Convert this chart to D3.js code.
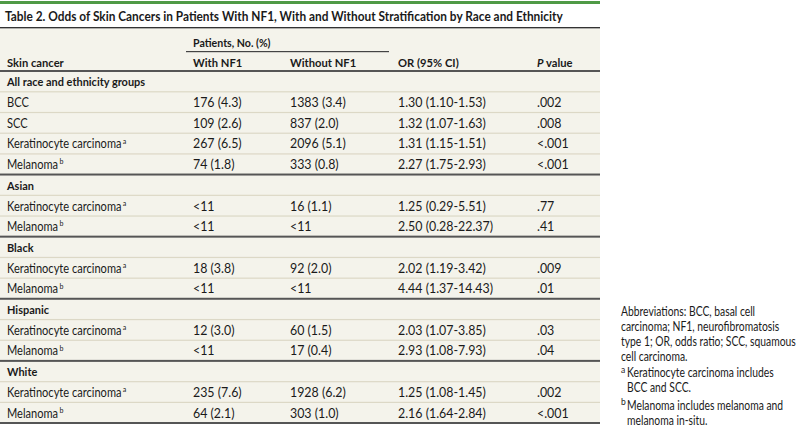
<!DOCTYPE html>
<html>
<head>
<meta charset="utf-8">
<script src="https://cdn.jsdelivr.net/npm/d3@7"></script>
<style>
  body { margin: 0; background: #fff; }
  svg text { font-family: Lato, "Open Sans", sans-serif; fill: #1a1a1a; }
</style>
</head>
<body>
<script>
// table content
var title = "Table 2. Odds of Skin Cancers in Patients With NF1, With and Without Stratification by Race and Ethnicity";
var spanner = "Patients, No. (%)";
var columns = ["Skin cancer", "With NF1", "Without NF1", "OR (95% CI)", "P value"];
var groups = ["All race and ethnicity groups", "Asian", "Black", "Hispanic", "White"];

// one entry per data row
var rowGroup = [0, 0, 0, 0, 1, 1, 2, 2, 3, 3, 4, 4];
var cancers = ["BCC", "SCC", "Keratinocyte carcinoma", "Melanoma",
  "Keratinocyte carcinoma", "Melanoma",
  "Keratinocyte carcinoma", "Melanoma",
  "Keratinocyte carcinoma", "Melanoma",
  "Keratinocyte carcinoma", "Melanoma"];
var marks = ["", "", "a", "b", "a", "b", "a", "b", "a", "b", "a", "b"];
var withNF1 = ["176 (4.3)", "109 (2.6)", "267 (6.5)", "74 (1.8)", "<11", "<11", "18 (3.8)", "<11", "12 (3.0)", "<11", "235 (7.6)", "64 (2.1)"];
var withoutNF1 = ["1383 (3.4)", "837 (2.0)", "2096 (5.1)", "333 (0.8)", "16 (1.1)", "<11", "92 (2.0)", "<11", "60 (1.5)", "17 (0.4)", "1928 (6.2)", "303 (1.0)"];
var orCI = ["1.30 (1.10-1.53)", "1.32 (1.07-1.63)", "1.31 (1.15-1.51)", "2.27 (1.75-2.93)",
  "1.25 (0.29-5.51)", "2.50 (0.28-22.37)", "2.02 (1.19-3.42)", "4.44 (1.37-14.43)",
  "2.03 (1.07-3.85)", "2.93 (1.08-7.93)", "1.25 (1.08-1.45)", "2.16 (1.64-2.84)"];
var pValues = [".002", ".008", "<.001", "<.001", ".77", ".41", ".009", ".01", ".03", ".04", ".002", "<.001"];

// footnotes, already broken into lines
var abbrevLines = ["Abbreviations: BCC, basal cell", "carcinoma; NF1, neurofibromatosis", "type 1; OR, odds ratio; SCC, squamous", "cell carcinoma."];
var noteMarks = ["a", "b"];
var noteLines = [["Keratinocyte carcinoma includes", "BCC and SCC."], ["Melanoma includes melanoma and", "melanoma in-situ."]];

var width = 810, height = 426;
var tableRight = 600;
var tableTop = 71, tableBottom = 423;
var bodySize = "12.5px", cellSize = "12.4px", headSize = "11.8px";

var svg = d3.select("body").append("svg").attr("width", width).attr("height", height);

// the reference face is condensed: squeeze letter texts horizontally
function squeezed(sel, xx, yy, s) {
  return sel.append("text").attr("transform", "translate(" + xx + "," + yy + ") scale(" + s + ",1)");
}

// build the flat list of table lines: group headers followed by their rows
var lines = [];
groups.forEach(function(g, gi) {
  lines.push({type: "group", label: g, gi: gi});
  rowGroup.forEach(function(r, i) { if (r === gi) lines.push({type: "row", i: i, gi: gi}); });
});

var y = d3.scaleBand().domain(d3.range(lines.length)).range([tableTop, tableBottom]);
var x = d3.scaleOrdinal().domain(columns).range([7, 193, 290, 398, 537]);

// top green bar and title
svg.append("rect").attr("x", 0).attr("y", 1).attr("width", tableRight).attr("height", 3).style("fill", "#4f9a46");
var titleText = squeezed(svg, 5, 20.5, 1).style("font-size", "14px").style("font-weight", "bold")
  .style("fill", "#1a1a1a").text(title);
// squeeze the title so it ends where the reference one does
var tw = titleText.node().getComputedTextLength();
titleText.attr("transform", "translate(5,20.5) scale(" + (558 / tw) + ",1)");
svg.append("rect").attr("x", 0).attr("y", 27).attr("width", tableRight).attr("height", 1.6).style("fill", "#333");

// table background
svg.append("rect").attr("x", 0).attr("y", 28.6).attr("width", tableRight).attr("height", tableBottom - 28.6).style("fill", "#f4f3eb");

// header
squeezed(svg, x("With NF1"), 47, 0.9).style("font-size", headSize).style("font-weight", "bold").text(spanner);
svg.append("rect").attr("x", 186).attr("y", 51).attr("width", 203).attr("height", 1.2).style("fill", "#444");
columns.forEach(function(d) {
  var t = squeezed(svg, x(d), 67, 0.95).style("font-size", headSize).style("font-weight", "bold");
  if (d === "P value") {
    t.append("tspan").style("font-style", "italic").text("P");
    t.append("tspan").text(" value");
  } else t.text(d);
});

// row separators: light inside a group, dark between groups
svg.selectAll("rect.sep").data(lines.slice(1)).enter().append("rect")
  .attr("class", "sep")
  .attr("x", 0)
  .attr("y", function(d, k) { return d.type === "group" ? y(k + 1) - 1 : y(k + 1) - 0.5; })
  .attr("width", tableRight)
  .attr("height", function(d) { return d.type === "group" ? 2 : 1.2; })
  .style("fill", function(d) { return d.type === "group" ? "#555" : "#dcd8c6"; });
svg.append("rect").attr("x", 0).attr("y", tableTop - 1).attr("width", tableRight).attr("height", 2).style("fill", "#555");
svg.append("rect").attr("x", 0).attr("y", tableBottom - 1).attr("width", tableRight).attr("height", 2).style("fill", "#555");

// group header rows
var base = 15.3;
lines.forEach(function(d, k) {
  if (d.type !== "group") return;
  squeezed(svg, x("Skin cancer"), y(k) + base, 0.93).style("font-size", headSize).style("font-weight", "bold").text(d.label);
});

// data rows
var cells = [
  {col: "With NF1", vals: withNF1},
  {col: "Without NF1", vals: withoutNF1},
  {col: "OR (95% CI)", vals: orCI},
  {col: "P value", vals: pValues}
];
lines.forEach(function(d, k) {
  if (d.type !== "row") return;
  var yy = y(k) + base;
  var t = squeezed(svg, x("Skin cancer"), yy, 0.885).style("font-size", bodySize);
  t.append("tspan").text(cancers[d.i]);
  if (marks[d.i]) t.append("tspan").attr("dx", 1.5).attr("dy", -4.8).style("font-size", "8px").text(marks[d.i]);
  cells.forEach(function(c) {
    svg.append("text").attr("x", x(c.col)).attr("y", yy).style("font-size", cellSize).text(c.vals[d.i]);
  });
});

// footnotes
var noteX = 621, noteSize = "12.6px", lineGap = 15, squeeze = 0.82;
abbrevLines.forEach(function(l, i) {
  squeezed(svg, noteX, 315.5 + i * lineGap, squeeze).style("font-size", noteSize).text(l);
});
var noteTop = [377, 409.5];
noteLines.forEach(function(nl, n) {
  squeezed(svg, noteX, noteTop[n] - 4.5, 1).style("font-size", "8.5px").text(noteMarks[n]);
  nl.forEach(function(l, i) {
    squeezed(svg, noteX + 6, noteTop[n] + i * lineGap, squeeze).style("font-size", noteSize).text(l);
  });
});
</script>
</body>
</html>
